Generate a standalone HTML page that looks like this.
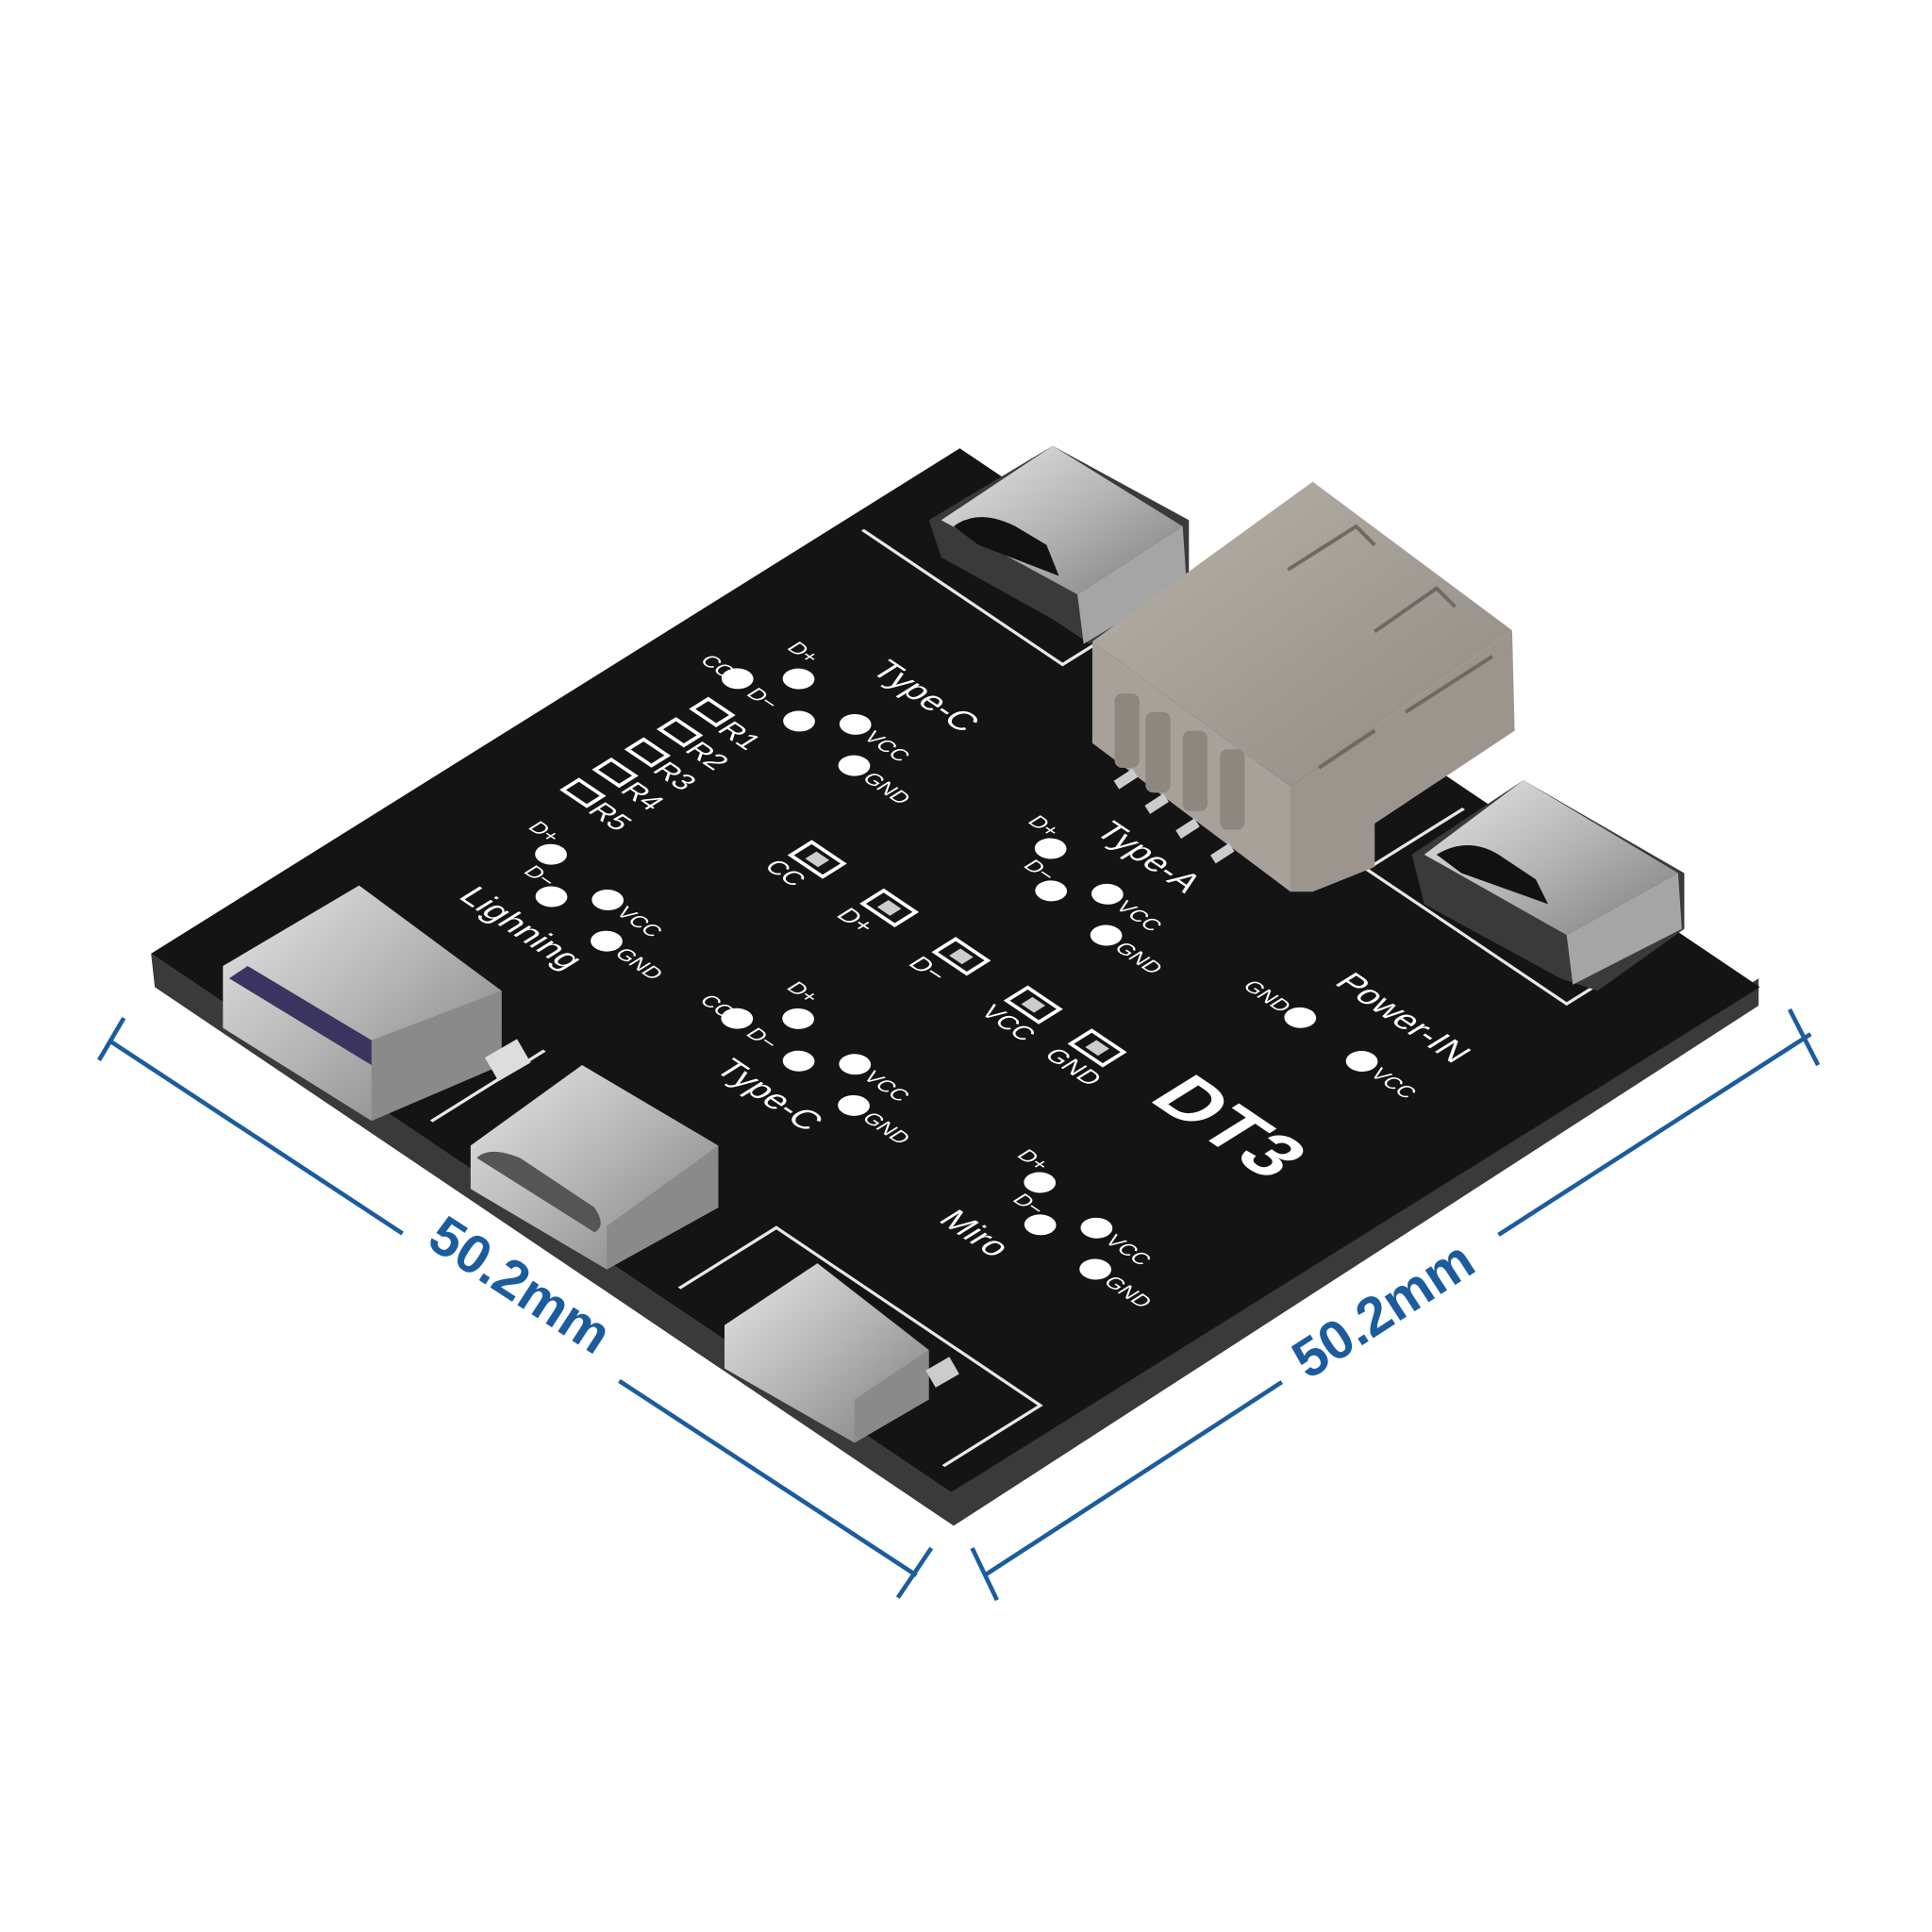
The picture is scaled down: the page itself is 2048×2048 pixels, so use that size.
<!DOCTYPE html>
<html><head><meta charset="utf-8"><style>
html,body{margin:0;padding:0;background:#fff;}
svg{display:block;}
text{font-family:"Liberation Sans",sans-serif;}
</style></head><body>
<svg width="2048" height="2048" viewBox="0 0 1560 1560" xmlns="http://www.w3.org/2000/svg">
<defs>
<linearGradient id="met" x1="0" y1="0" x2="1" y2="1"><stop offset="0" stop-color="#e6e6e6"/><stop offset="0.5" stop-color="#b5b5b5"/><stop offset="1" stop-color="#7d7d7d"/></linearGradient>
<linearGradient id="usb" x1="0" y1="0" x2="1" y2="1"><stop offset="0" stop-color="#b8b2a9"/><stop offset="1" stop-color="#8f8a82"/></linearGradient>
</defs>
<rect width="1560" height="1560" fill="#fff"/>
<polygon points="122,770 768,1205 1420,790 1420,812 770,1232 125,797" fill="#3a3a3a"/>
<polygon points="775,362 1421,797 768,1205 122,770" fill="#141414"/>

<g stroke="#1c5c9c" stroke-width="3.5" fill="none">
<line x1="88" y1="840" x2="325" y2="996"/>
<line x1="500" y1="1115" x2="740" y2="1272"/>
<line x1="80" y1="856" x2="100" y2="822"/>
<line x1="725" y1="1290" x2="752" y2="1250"/>
<line x1="795" y1="1272" x2="1035" y2="1116"/>
<line x1="1210" y1="997" x2="1462" y2="835"/>
<line x1="785" y1="1250" x2="805" y2="1292"/>
<line x1="1445" y1="815" x2="1468" y2="860"/>
</g>
<text x="0" y="0" transform="translate(412,1050) rotate(33)" font-size="44" font-weight="bold" fill="#1c5c9c" text-anchor="middle">50.2mm</text>
<text x="0" y="0" transform="translate(1125,1070) rotate(-33)" font-size="44" font-weight="bold" fill="#1c5c9c" text-anchor="middle">50.2mm</text>

<g transform="matrix(6.46,4.35,-6.53,4.08,775,362)" fill="#fff">
<g fill="none" stroke="#e8e8e8" stroke-width="0.35">
<polyline points="2,14 27,14 27,1"/>
<polyline points="65,2 65,14 90,14 90,6"/>
<line x1="33" y1="84" x2="33" y2="98"/>
<polyline points="64,98 64,86 97,86 97,98"/>
</g>
<g font-size="3.6">
<text x="16" y="27">Type-C</text>
<text x="45" y="28">Type-A</text>
<text x="74" y="27">Power-IN</text>
<text x="13" y="75">Lighning</text>
<text x="45" y="75">Type-C</text>
<text x="73" y="75">Miro</text>
</g>
<text x="74" y="50" font-size="8" font-weight="bold">DT3</text>
<g font-size="3">
<g transform="translate(9,40)"><rect x="0" y="0" width="3" height="2" fill="none" stroke="#fff" stroke-width="0.4"/><text x="3.5" y="2.5">R1</text></g>
<g transform="translate(9,44)"><rect x="0" y="0" width="3" height="2" fill="none" stroke="#fff" stroke-width="0.4"/><text x="3.5" y="2.5">R2</text></g>
<g transform="translate(9,48)"><rect x="0" y="0" width="3" height="2" fill="none" stroke="#fff" stroke-width="0.4"/><text x="3.5" y="2.5">R3</text></g>
<g transform="translate(9,52)"><rect x="0" y="0" width="3" height="2" fill="none" stroke="#fff" stroke-width="0.4"/><text x="3.5" y="2.5">R4</text></g>
<g transform="translate(9,56)"><rect x="0" y="0" width="3" height="2" fill="none" stroke="#fff" stroke-width="0.4"/><text x="3.5" y="2.5">R5</text></g>
</g>
<g font-size="2.6">
<g transform="translate(29,47)"><rect width="4" height="2.6" fill="none" stroke="#fff" stroke-width="0.4"/><rect x="1.2" y="0.6" width="1.6" height="1.4" fill="#ccc"/><text x="-0.5" y="5.5">CC</text></g>
<g transform="translate(38,47)"><rect width="4" height="2.6" fill="none" stroke="#fff" stroke-width="0.4"/><rect x="1.2" y="0.6" width="1.6" height="1.4" fill="#ccc"/><text x="-0.5" y="5.5">D+</text></g>
<g transform="translate(47,47)"><rect width="4" height="2.6" fill="none" stroke="#fff" stroke-width="0.4"/><rect x="1.2" y="0.6" width="1.6" height="1.4" fill="#ccc"/><text x="-0.5" y="5.5">D−</text></g>
<g transform="translate(56,47)"><rect width="4" height="2.6" fill="none" stroke="#fff" stroke-width="0.4"/><rect x="1.2" y="0.6" width="1.6" height="1.4" fill="#ccc"/><text x="-0.5" y="5.5">VCC</text></g>
<g transform="translate(64,47)"><rect width="4" height="2.6" fill="none" stroke="#fff" stroke-width="0.4"/><rect x="1.2" y="0.6" width="1.6" height="1.4" fill="#ccc"/><text x="-0.5" y="5.5">GND</text></g>
</g>
<g font-size="2.2">
<g transform="translate(8.8,36.2)"><circle r="1.4"/><text x="-4" y="0.8">CC</text>
<circle cx="3.7" cy="-3.9" r="1.4"/><text x="0" y="-6">D+</text>
<circle cx="7.8" cy="0.1" r="1.4"/><text x="2" y="1">D−</text>
<circle cx="11.5" cy="-3.2" r="1.4"/><text x="13.2" y="-2.4">VCC</text>
<circle cx="15.4" cy="0.8" r="1.4"/><text x="17.1" y="1.6">GND</text></g>
<g transform="translate(41.5,68.6)"><circle r="1.4"/><text x="-4" y="0.8">CC</text>
<circle cx="3.7" cy="-3.9" r="1.4"/><text x="0" y="-6">D+</text>
<circle cx="7.8" cy="0.1" r="1.4"/><text x="2" y="1">D−</text>
<circle cx="11.5" cy="-3.2" r="1.4"/><text x="13.2" y="-2.4">VCC</text>
<circle cx="15.4" cy="0.8" r="1.4"/><text x="17.1" y="1.6">GND</text></g>
<g transform="translate(14.5,64.9)"><circle r="1.4"/><text x="-4" y="-1">D+</text>
<circle cx="4.1" cy="4" r="1.4"/><text x="0" y="3.5">D−</text>
<circle cx="7.8" cy="0.7" r="1.4"/><text x="9.5" y="1.5">VCC</text>
<circle cx="11.7" cy="4.7" r="1.4"/><text x="13.4" y="5.5">GND</text></g>
<g transform="translate(44,32.3)"><circle r="1.4"/><text x="-4" y="-1">D+</text>
<circle cx="4.1" cy="4" r="1.4"/><text x="0" y="3.5">D−</text>
<circle cx="7.8" cy="0.7" r="1.4"/><text x="9.5" y="1.5">VCC</text>
<circle cx="11.7" cy="4.7" r="1.4"/><text x="13.4" y="5.5">GND</text></g>
<g transform="translate(75.5,64.8)"><circle r="1.4"/><text x="-4" y="-1">D+</text>
<circle cx="4.1" cy="4" r="1.4"/><text x="0" y="3.5">D−</text>
<circle cx="7.8" cy="0.7" r="1.4"/><text x="9.5" y="1.5">VCC</text>
<circle cx="11.7" cy="4.7" r="1.4"/><text x="13.4" y="5.5">GND</text></g>
<g transform="translate(75.3,32.4)"><circle r="1.4"/><text x="-6.5" y="0.8">GND</text>
<circle cx="7.9" cy="0.2" r="1.4"/><text x="9.6" y="1">VCC</text></g>
</g>
</g>

<polygon points="750,420 850,360 960,420 960,470 880,520 850,500 760,450" fill="#3a3a3a"/>
<polygon points="760,420 850,360 955,425 870,480" fill="url(#met)"/>
<polygon points="870,480 955,425 958,470 875,520" fill="#a5a5a5"/>
<path d="M770,425 Q790,410 820,425 L845,440 L855,465 L790,440 Z" fill="#111"/>
<polygon points="882,518 1042,635 1042,720 882,600" fill="#a8a19a"/>
<g fill="#8e877f"><rect x="900" y="560" width="20" height="60" rx="6"/><rect x="925" y="575" width="20" height="65" rx="6"/><rect x="955" y="590" width="20" height="65" rx="6"/><rect x="985" y="605" width="20" height="65" rx="6"/></g>
<polygon points="882,518 1060,389 1221,509 1042,635" fill="url(#usb)"/>
<polygon points="1042,635 1221,509 1223,590 1110,665 1110,700 1060,720 1042,720" fill="#9c958d"/>
<g fill="none" stroke="#6f6962" stroke-width="3"><polyline points="1040,460 1095,425 1110,440"/><polyline points="1110,510 1160,475 1175,490"/><polyline points="1065,620 1110,590"/><polyline points="1135,575 1205,530"/></g>
<g fill="#ccc"><rect x="900" y="625" width="18" height="8" transform="rotate(-33 909 629)"/><rect x="925" y="645" width="18" height="8" transform="rotate(-33 934 649)"/><rect x="950" y="665" width="18" height="8" transform="rotate(-33 959 669)"/><rect x="978" y="685" width="18" height="8" transform="rotate(-33 987 689)"/></g>
<polygon points="1140,690 1230,630 1360,705 1360,750 1290,800 1260,790 1150,730" fill="#3a3a3a"/>
<polygon points="1150,690 1230,630 1355,705 1265,755" fill="url(#met)"/>
<polygon points="1265,755 1355,705 1358,750 1270,795" fill="#a5a5a5"/>
<path d="M1160,690 Q1185,675 1210,690 L1240,710 L1250,730 L1180,705 Z" fill="#111"/>
<polygon points="180,780 290,715 405,800 405,860 300,905 180,830" fill="url(#met)"/>
<polygon points="300,840 405,800 405,860 300,905" fill="#8a8a8a"/>
<path d="M185,790 L200,780 L300,840 L300,860 Z" fill="#3a3560"/>
<rect x="395" y="845" width="30" height="22" fill="#ddd" transform="rotate(-30 410 856)"/>
<polygon points="380,925 470,860 580,925 580,975 490,1025 380,960" fill="url(#met)"/>
<polygon points="490,990 580,925 580,975 490,1025" fill="#8a8a8a"/>
<path d="M385,935 Q395,925 420,935 L480,975 Q490,990 480,995 Z" fill="#555"/>
<polygon points="585,1070 660,1020 750,1090 750,1130 690,1165 585,1105" fill="url(#met)"/>
<polygon points="690,1130 750,1090 750,1130 690,1165" fill="#8a8a8a"/>
<rect x="750" y="1100" width="22" height="16" fill="#ccc" transform="rotate(-30 761 1108)"/>
</svg>
</body></html>
